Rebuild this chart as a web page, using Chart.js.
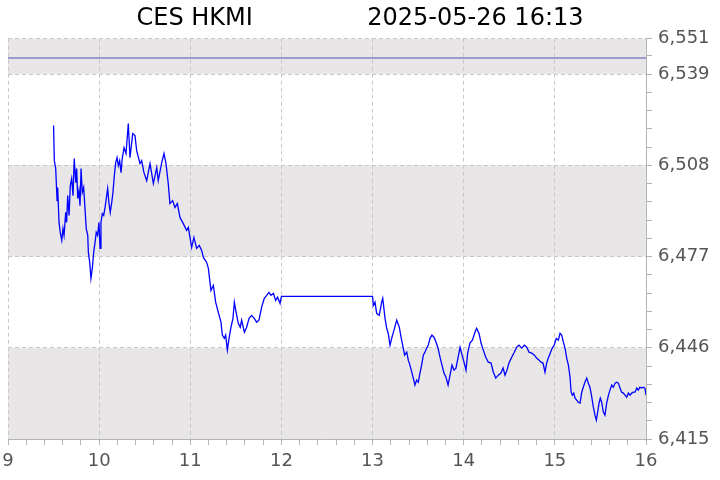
<!DOCTYPE html>
<html><head><meta charset="utf-8">
<script src="https://cdn.jsdelivr.net/npm/chart.js@4"></script>
<style>html,body{margin:0;padding:0;background:#fff}</style>
</head><body>
<canvas id="c" width="720" height="480"></canvas>
<script>
const titleLeft = 'CES HKMI';
const titleRight = '2025-05-26 16:13';
const hourLabels = ['9', '10', '11', '12', '13', '14', '15', '16'];
const yTickValues = [6415, 6446, 6477, 6508, 6539, 6551];
const prevClose = 6544.5;
// minutes after 09:00
const minutes = [
  30, 30.5, 31.4, 32.3, 32.7, 33.6, 34.4, 35.4, 36.2, 36.9,
  38.0, 38.6, 39.3, 40.2, 41.0, 41.9, 42.8, 43.6, 44.6, 45.2,
  45.9, 46.7, 47.4, 48.1, 48.9, 49.8, 50.7, 51.5, 52.5, 52.9,
  53.8, 54.6, 55.5, 56.4, 57.3, 58.1, 59.0, 59.9, 60.6, 61.2,
  62.1, 63.0, 63.9, 64.7, 65.6, 66.5, 67.3, 68.3, 69.1, 70.0,
  70.9, 71.8, 72.6, 73.5, 74.4, 75.2, 76.4, 77.7, 79.2, 80.3,
  82.1, 83.6, 84.7, 86.9, 88.0, 89.5, 91.3, 93.5, 95.7, 97.9,
  98.9, 101.2, 102.7, 104.0, 105.5, 106.6, 108.4, 109.9, 111.5, 113.2,
  115.4, 117.6, 118.7, 120.9, 122.4, 124.2, 125.9, 127.5, 128.6, 130.8,
  131.9, 133.6, 135.2, 136.7, 138.4, 140.2, 141.1, 142.4, 143.3, 144.4,
  145.5, 146.8, 148.1, 149.0, 150.3, 151.6, 152.9, 153.8, 155.6, 157.1,
  158.7, 160.4, 162.1, 163.7, 165.2, 167.0, 168.7, 170.3, 171.8, 173.1,
  174.7, 176.2, 177.5, 179.1, 180,
  240, 240.5, 241.6, 242.7, 244.4, 246.0, 246.7, 248.2, 249.3, 250.3,
  251.5, 252.8, 254.1, 255.9, 257.6, 258.5, 259.8, 261.1, 262.5, 263.5,
  264.6, 265.8, 266.8, 267.9, 269.0, 270.1, 271.2, 272.3, 273.4, 274.5,
  275.6, 276.7, 277.8, 279.1, 280.4, 281.8, 283.1, 284.4, 285.7, 287.0,
  288.3, 289.7, 291.0, 292.3, 293.6, 294.9, 296.2, 297.6, 298.9, 300.2,
  301.5, 302.6, 304.1, 305.7, 307.4, 308.5, 310.1, 311.4, 312.9, 314.5,
  316.2, 318.0, 319.5, 321.1, 322.8, 324.5, 325.9, 327.2, 328.5, 329.8,
  331.6, 333.3, 334.9, 336.4, 338.2, 339.9, 341.5, 343.0, 344.8, 346.5,
  348.0, 349.6, 350.9, 352.2, 353.5, 354.6, 355.7, 357.0, 358.3, 359.6,
  360.9, 362.3, 363.4, 364.5, 365.6, 366.7, 367.8, 368.9, 370.0, 370.7,
  371.5, 372.4, 373.3, 374.4, 375.4, 376.6, 377.7, 378.7, 379.8, 381.0,
  382.0, 383.1, 384.3, 385.3, 386.4, 387.3, 388.2, 389.1, 389.9, 390.8,
  391.9, 393.0, 394.1, 395.3, 396.3, 397.4, 398.5, 399.6, 400.7, 401.8,
  402.9, 404.0, 405.1, 406.2, 407.3, 408.4, 409.5, 410.6, 411.6, 412.8,
  413.9, 414.9, 416.0, 417.1, 418.2, 419.3, 420
];
const prices = [
  6521.5, 6509.6, 6506.9, 6496.0, 6500.5, 6488.6, 6485.2, 6482.5, 6486.5, 6484.2,
  6492.0, 6488.6, 6497.7, 6491.0, 6501.1, 6503.5, 6497.7, 6510.3, 6502.1, 6506.9,
  6496.7, 6499.4, 6494.3, 6506.9, 6498.8, 6500.5, 6493.3, 6486.5, 6484.2, 6478.4,
  6475.0, 6469.6, 6473.0, 6478.4, 6481.8, 6485.2, 6484.2, 6488.6, 6479.8, 6488.6,
  6491.6, 6491.0, 6493.7, 6496.7, 6500.1, 6495.0, 6492.0, 6495.4, 6498.8, 6504.5,
  6508.9, 6510.6, 6507.9, 6509.6, 6505.5, 6510.3, 6514.0, 6512.0, 6522.2, 6510.6,
  6518.8, 6518.1, 6513.0, 6508.6, 6509.6, 6505.5, 6502.8, 6508.6, 6501.8, 6507.2,
  6502.8, 6508.9, 6512.0, 6508.6, 6501.8, 6495.0, 6496.0, 6493.7, 6495.0, 6490.3,
  6488.2, 6485.9, 6486.9, 6480.1, 6483.5, 6479.8, 6480.8, 6479.1, 6476.7, 6475.0,
  6473.0, 6465.5, 6467.2, 6461.5, 6458.1, 6454.7, 6450.3, 6449.2, 6450.3, 6445.2,
  6449.2, 6453.0, 6456.0, 6461.5, 6457.7, 6454.3, 6453.0, 6455.4, 6451.3, 6453.0,
  6456.0, 6457.0, 6456.0, 6454.7, 6455.4, 6459.8, 6462.8, 6463.8, 6464.8, 6463.8,
  6464.5, 6462.1, 6463.2, 6461.1, 6463.5,
  6463.5, 6460.4, 6461.5, 6457.7, 6457.0, 6461.5, 6462.8, 6456.0, 6452.6, 6450.9,
  6446.9, 6449.6, 6452.0, 6455.4, 6453.0, 6450.3, 6446.9, 6443.5, 6444.5, 6441.8,
  6440.1, 6437.7, 6435.7, 6433.3, 6435.0, 6434.3, 6437.4, 6440.1, 6443.5, 6444.5,
  6445.9, 6446.9, 6449.2, 6450.3, 6449.6, 6447.9, 6445.9, 6442.8, 6440.1, 6437.4,
  6436.0, 6433.3, 6436.7, 6440.1, 6438.4, 6439.1, 6442.5, 6446.2, 6443.5, 6441.1,
  6438.4, 6444.2, 6447.6, 6448.6, 6451.3, 6452.6, 6450.9, 6447.6, 6445.2, 6442.8,
  6441.1, 6440.8, 6437.7, 6435.7, 6436.7, 6437.4, 6439.1, 6436.7, 6438.4, 6440.8,
  6442.8, 6444.5, 6446.2, 6446.9, 6445.9, 6446.9, 6446.2, 6444.5, 6444.2, 6443.5,
  6442.5, 6441.8, 6441.1, 6440.8, 6437.7, 6440.8, 6442.5, 6444.2, 6445.9, 6446.9,
  6449.2, 6448.6, 6450.9, 6450.3, 6447.9, 6445.9, 6442.5, 6440.1, 6436.0, 6430.9,
  6429.9, 6430.6, 6428.9, 6428.2, 6427.5, 6427.2, 6430.9, 6432.6, 6434.3, 6435.7,
  6434.0, 6432.6, 6429.2, 6425.9, 6423.1, 6421.4, 6424.2, 6427.2, 6428.9, 6427.5,
  6424.2, 6423.1, 6427.2, 6429.9, 6431.6, 6433.3, 6432.6, 6434.0, 6434.3, 6434.0,
  6432.3, 6430.9, 6430.6, 6429.9, 6429.2, 6430.6, 6429.9, 6430.6, 6430.9, 6430.9,
  6432.3, 6431.6, 6432.6, 6432.3, 6432.6, 6432.3, 6429.9
];

const GRID = '#c8c8c8';
const AXIS = '#b4b4b4';
const LABEL = '#555555';
const BAND = '#e8e6e6';

const bandsPlugin = {
  id: 'bands',
  beforeDraw(chart) {
    const {ctx, chartArea: a, scales: {y}} = chart;
    ctx.save();
    ctx.fillStyle = '#ffffff';
    ctx.fillRect(0, 0, chart.width, chart.height);
    ctx.fillStyle = BAND;
    for (let i = 0; i + 1 < yTickValues.length; i += 2) {
      const y1 = y.getPixelForValue(yTickValues[i]);
      const y2 = y.getPixelForValue(yTickValues[i + 1]);
      ctx.fillRect(a.left, y2, a.right - a.left, y1 - y2);
    }
    ctx.restore();
  }
};

const yMin = yTickValues[0], yMax = yTickValues[yTickValues.length - 1];
const yStep = yTickValues[1] - yTickValues[0];

new Chart(document.getElementById('c'), {
  type: 'line',
  data: {
    datasets: [
      {
        data: [{x: 0, y: prevClose}, {x: 60 * (hourLabels.length - 1), y: prevClose}],
        borderColor: '#8282c6', borderWidth: 1.5, pointRadius: 0
      },
      {
        data: minutes.map((m, i) => ({x: m, y: prices[i]})),
        borderColor: '#0000ff', borderWidth: 1.3, pointRadius: 0, tension: 0
      }
    ]
  },
  options: {
    responsive: false, animation: false, devicePixelRatio: 1,
    layout: {padding: 0},
    plugins: {
      legend: {display: false}, tooltip: {enabled: false},
      title: {
        display: true,
        text: titleLeft + ' '.repeat(15) + titleRight,
        color: '#000',
        font: {family: 'DejaVu Sans', size: 24, weight: 'normal', lineHeight: 1.2},
        padding: {top: 4, bottom: 6}
      }
    },
    scales: {
      x: {
        type: 'linear', min: 0, max: 60 * (hourLabels.length - 1),
        afterBuildTicks(s) {
          const t = [];
          for (let v = 0; v <= s.max + 0.001; v += 12) t.push({value: v, isMajor: v % 60 === 0});
          s.ticks = t;
        },
        afterFit(s) { s.height = 41; s.paddingLeft = 8; },
        ticks: {
          autoSkip: false, maxRotation: 0, padding: 6, color: LABEL,
          font: {family: 'DejaVu Sans', size: 18},
          callback: (v) => (v % 60 === 0 ? hourLabels[v / 60] : '')
        },
        grid: {
          color: (c) => (c.tick && c.tick.isMajor ? GRID : 'rgba(0,0,0,0)'),
          tickColor: AXIS, tickLength: 6, lineWidth: 1
        },
        border: {display: true, color: AXIS, dash: [4, 3]}
      },
      y: {
        position: 'right', min: yMin, max: yMax,
        afterBuildTicks(s) {
          const t = [];
          for (let k = 0; yMin + k * yStep / 5 <= yMax + 0.001; k++) {
            const v = yMin + k * yStep / 5;
            if (k % 5 !== 0) t.push({value: v, isMajor: false});
          }
          yTickValues.forEach(v => t.push({value: v, isMajor: true}));
          t.sort((a, b) => a.value - b.value);
          s.ticks = t;
        },
        afterFit(s) { s.width = 74; },
        ticks: {
          autoSkip: false, padding: 6, color: LABEL,
          font: {family: 'DejaVu Sans', size: 18},
          callback: (v) => (yTickValues.includes(v) ? v.toLocaleString('en-US') : '')
        },
        grid: {
          color: (c) => (c.tick && c.tick.isMajor ? GRID : 'rgba(0,0,0,0)'),
          tickColor: AXIS, tickLength: 6, lineWidth: 1
        },
        border: {display: true, color: AXIS, dash: [4, 3]}
      }
    }
  },
  plugins: [bandsPlugin]
});
</script>
</body></html>
